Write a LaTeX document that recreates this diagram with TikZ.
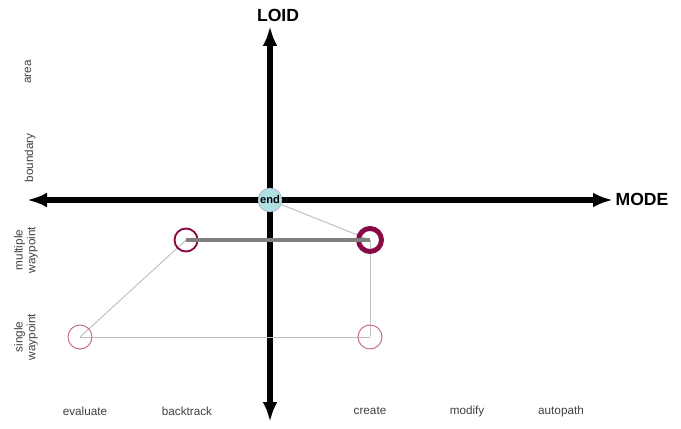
\documentclass[tikz,border=0pt]{standalone}
\usepackage{fontspec}
\setmainfont{Liberation Sans}
\usetikzlibrary{arrows.meta,backgrounds}

\begin{document}
\begin{tikzpicture}[
    x=0.03cm, y=-0.03cm,
    axis/.style={line width=4.4pt, {Latex[length=6mm,width=4.4mm]}-{Latex[length=6mm,width=4.4mm]}},
    title/.style={font=\bfseries\fontsize{15}{18}\selectfont},
    lbl/.style={font=\fontsize{10}{11}\selectfont, text=black!75, align=center},
    multi/.style={circle, draw=c2, minimum size=0.69cm, inner sep=0pt},
    single/.style={circle, draw=c3, line width=0.9pt, minimum size=0.72cm, inner sep=0pt},
    thin/.style={draw=black!25, line width=0.8pt}
]
\definecolor{c1}{RGB}{176,224,228}
\definecolor{c2}{RGB}{135,10,70}
\definecolor{c3}{RGB}{200,110,155}

\useasboundingbox (0,0) rectangle (681,429);

% axes
\coordinate (west) at (27,200);
\coordinate (east) at (613,200);
\coordinate (north) at (270,26);
\coordinate (south) at (270,422);

\node[title] (loid) at (278,15) {LOID};
\node[title] (mode) at (642,199) {MODE};

% levels of detail
\node[lbl, rotate=90] (area) at (28,72) {area};
\node[lbl, rotate=90] (bound) at (30,158) {boundary};
\node[lbl, rotate=90] (mwp) at (26,250) {multiple\\waypoint};
\node[lbl, rotate=90] (swp) at (26,337) {single\\waypoint};

% modes
\node[lbl] (eval) at (85,411) {evaluate};
\node[lbl] (back) at (187,411) {backtrack};
\node[lbl] (create) at (370,411) {create};
\node[lbl] (modify) at (467,411) {modify};
\node[lbl] (auto) at (561,411) {autopath};

% states
\node[circle, draw=black!35, fill=c1, minimum size=0.72cm, inner sep=0pt,
      font=\bfseries\fontsize{9.5}{10}\selectfont] (end) at (270,200) {end};
\node[multi, line width=1.6pt] (m1) at (186,240) {};
\node[multi, line width=4.2pt] (m2) at (370,240) {};
\node[single] (s1) at (80,337) {};
\node[single] (s2) at (370,337) {};

\begin{scope}[on background layer]
\draw[axis] (west) -- (east);
\draw[axis] (south) -- (north);
\draw[thin] (end.center) -- (m2.center);
\draw[thin] (m1.center) -- (s1.center);
\draw[thin] (s1.center) -- (s2.center);
\draw[thin] (s2.center) -- (m2.center);
\end{scope}
\draw[black!50, line width=2.8pt] (m1.center) -- (m2.center);
\end{tikzpicture}
\end{document}
